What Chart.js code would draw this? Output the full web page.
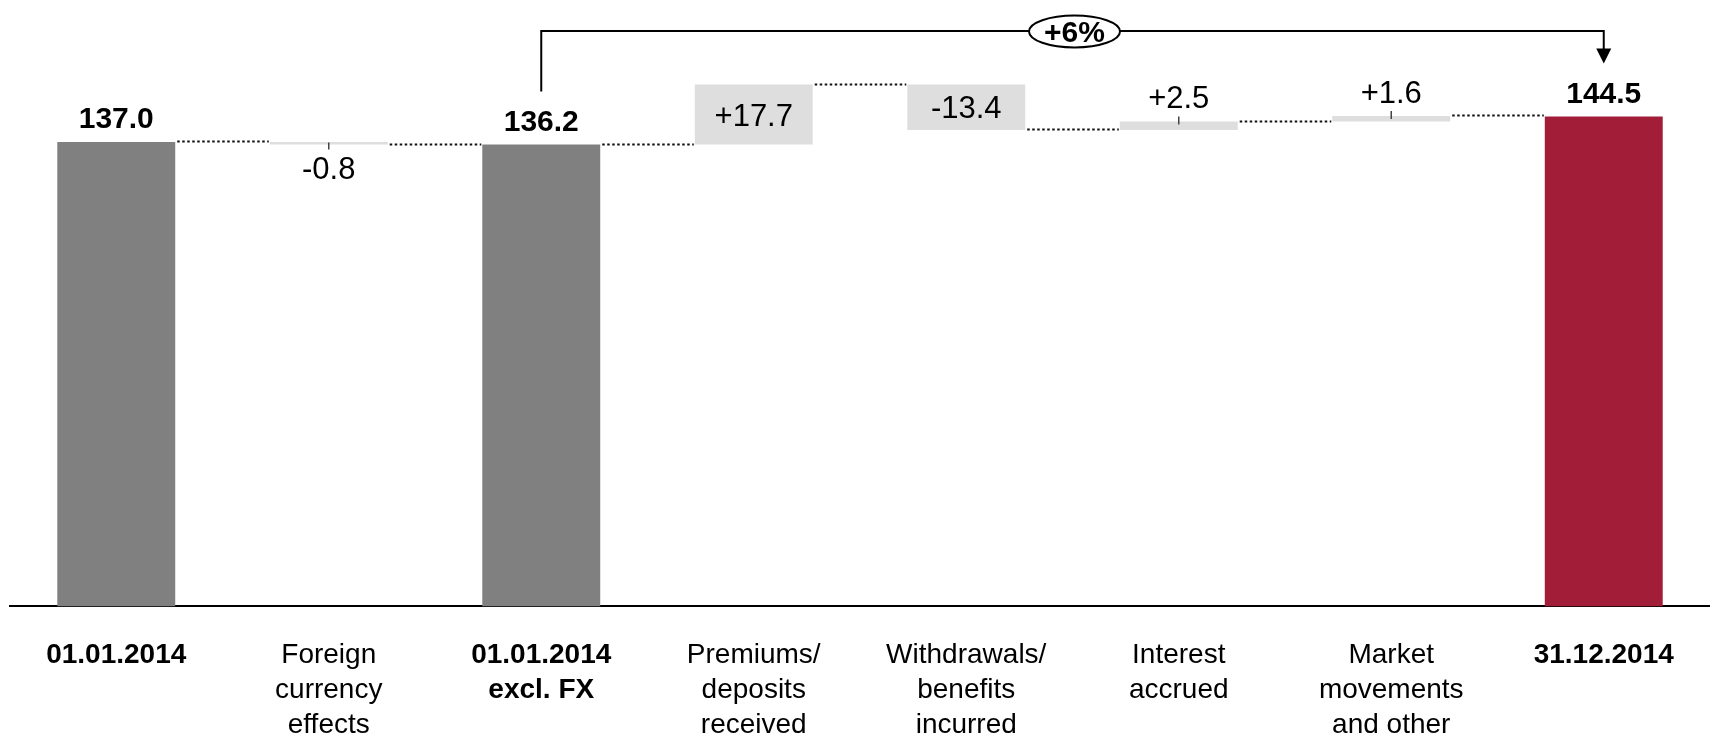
<!DOCTYPE html>
<html>
<head>
<meta charset="utf-8">
<title>Reserves development 2014</title>
<script src="https://cdn.jsdelivr.net/npm/chart.js@4.4.1/dist/chart.umd.min.js"></script>
<style>
  html, body { margin: 0; padding: 0; background: #ffffff; }
  #wrap { width: 1710px; height: 738px; }
</style>
</head>
<body>
<div id="wrap"><canvas id="chart" width="1710" height="738"></canvas></div>
<script>
// Category labels (multi-line)
const categories = [
  ['01.01.2014'],
  ['Foreign', 'currency', 'effects'],
  ['01.01.2014', 'excl. FX'],
  ['Premiums/', 'deposits', 'received'],
  ['Withdrawals/', 'benefits', 'incurred'],
  ['Interest', 'accrued'],
  ['Market', 'movements', 'and other'],
  ['31.12.2014']
];

// Stock values (full bars) and period changes (floating bars)
const totalValues  = [137.0, null, 136.2, null, null, null, null, 144.5];
const changeValues = [null, -0.8, null, 17.7, -13.4, 2.5, 1.6, null];

// Growth annotation between the adjusted opening and the closing value
const growthLabel = '+6%';
const growthFrom = 2;
const growthTo = 7;

const FONT = '"Liberation Sans", Arial, Helvetica, sans-serif';
const GRAY = '#808080';
const RED = '#A21D38';
const LIGHT = '#DEDEDE';

// Floating ranges and running levels
const levels = [];
let running = 0;
const ranges = categories.map((_, i) => {
  if (totalValues[i] !== null) {
    running = totalValues[i];
    levels.push(running);
    return [0, running];
  }
  const start = running;
  running = Math.round((running + changeValues[i]) * 10) / 10;
  levels.push(running);
  return [Math.min(start, running), Math.max(start, running)];
});

const fmtChange = v => (v > 0 ? '+' : '') + v.toFixed(1);

const waterfallDecor = {
  id: 'waterfallDecor',
  afterDatasetsDraw(chart) {
    const ctx = chart.ctx;
    const y = chart.scales.y;
    const meta = chart.getDatasetMeta(0);
    const bars = meta.data.map((el, i) => {
      const p = el.getProps(['x', 'width'], true);
      return {
        x: p.x,
        left: p.x - p.width / 2,
        right: p.x + p.width / 2,
        top: y.getPixelForValue(ranges[i][1]),
        bottom: y.getPixelForValue(ranges[i][0])
      };
    });

    ctx.save();
    // dotted connectors
    ctx.strokeStyle = '#111';
    ctx.lineWidth = 2;
    ctx.setLineDash([2.5, 2.5]);
    for (let i = 0; i < bars.length - 1; i++) {
      const ly = Math.round(y.getPixelForValue(levels[i])) - 0.5;
      ctx.beginPath();
      ctx.moveTo(bars[i].right + 2, ly);
      ctx.lineTo(bars[i + 1].left - 1, ly);
      ctx.stroke();
    }
    ctx.setLineDash([]);

    // value labels
    ctx.fillStyle = '#000';
    ctx.textAlign = 'center';
    ctx.textBaseline = 'alphabetic';
    bars.forEach((b, i) => {
      if (totalValues[i] !== null) {
        ctx.font = 'bold 30px ' + FONT;
        ctx.fillText(totalValues[i].toFixed(1), b.x, b.top - 13.5);
        return;
      }
      const v = changeValues[i];
      const txt = fmtChange(v);
      ctx.font = '31px ' + FONT;
      const cap = 0.716 * 31;
      const h = b.bottom - b.top;
      if (h > 30) {
        ctx.fillText(txt, b.x, (b.top + b.bottom) / 2 + cap / 2);
      } else {
        ctx.strokeStyle = '#444';
        ctx.lineWidth = 1.5;
        ctx.beginPath();
        if (v < 0) {
          ctx.moveTo(b.x, b.bottom - 2);
          ctx.lineTo(b.x, b.bottom + 5);
          ctx.stroke();
          ctx.fillText(txt, b.x, b.bottom + 12.5 + cap);
        } else {
          ctx.moveTo(b.x, b.top + 3);
          ctx.lineTo(b.x, b.top - 5);
          ctx.stroke();
          ctx.fillText(txt, b.x, b.top - 13.5);
        }
      }
    });

    // growth bracket with arrow
    const a = bars[growthFrom];
    const c = bars[growthTo];
    const by = chart.chartArea.top + 1;
    const legA = a.top - 53;
    const tip = c.top - 53;
    ctx.strokeStyle = '#000';
    ctx.lineWidth = 2;
    ctx.beginPath();
    ctx.moveTo(a.x, legA);
    ctx.lineTo(a.x, by);
    ctx.lineTo(c.x, by);
    ctx.lineTo(c.x, tip - 12);
    ctx.stroke();
    ctx.fillStyle = '#000';
    ctx.beginPath();
    ctx.moveTo(c.x - 7.5, tip - 15);
    ctx.lineTo(c.x + 7.5, tip - 15);
    ctx.lineTo(c.x, tip);
    ctx.closePath();
    ctx.fill();

    const mx = (a.x + c.x) / 2 + 2;
    ctx.beginPath();
    ctx.ellipse(mx, by + 0.5, 45.5, 16, 0, 0, Math.PI * 2);
    ctx.fillStyle = '#fff';
    ctx.fill();
    ctx.lineWidth = 2;
    ctx.stroke();
    ctx.fillStyle = '#000';
    ctx.font = 'bold 30px ' + FONT;
    ctx.fillText(growthLabel, mx, by + 11.2);
    ctx.restore();
  }
};

new Chart(document.getElementById('chart'), {
  type: 'bar',
  data: {
    labels: categories,
    datasets: [{
      data: ranges,
      backgroundColor: ctx => {
        const i = ctx.dataIndex;
        if (totalValues[i] === null) return LIGHT;
        return i === categories.length - 1 ? RED : GRAY;
      },
      borderWidth: 0,
      categoryPercentage: 1,
      barPercentage: 0.555
    }]
  },
  options: {
    responsive: false,
    animation: false,
    events: [],
    layout: { padding: { top: 30, left: 10, right: 0, bottom: 0 } },
    plugins: {
      legend: { display: false },
      tooltip: { enabled: false }
    },
    scales: {
      x: {
        grid: { display: false, drawTicks: false },
        border: { display: true, color: '#000', width: 2 },
        ticks: {
          padding: 31,
          maxRotation: 0,
          autoSkip: false,
          color: '#000',
          font: ctx => ({
            family: FONT,
            size: 28,
            weight: totalValues[ctx.index] !== null ? 'bold' : 'normal',
            lineHeight: 35 / 28
          })
        },
        afterFit: scale => { scale.height = 131.6; }
      },
      y: {
        display: false,
        min: 0,
        max: 170
      }
    }
  },
  plugins: [waterfallDecor]
});
</script>
</body>
</html>
